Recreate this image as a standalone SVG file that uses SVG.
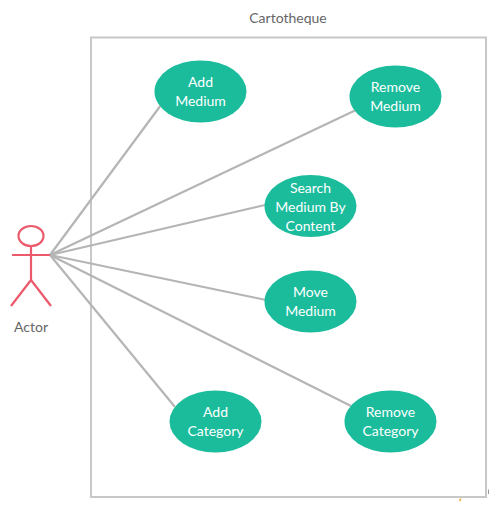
<svg xmlns="http://www.w3.org/2000/svg" width="495" height="505" viewBox="0 0 495 505">
<style>
text{font-family:Lato,"Liberation Sans",sans-serif;font-size:14px;text-anchor:middle}
.u ellipse{fill:#1abc9c}
.u text{fill:#fff}
.c line{stroke:#b5b5b5;stroke-width:2.2;fill:none}
.a *{stroke:#eb5a6b;stroke-width:2.2;fill:none}
.l{fill:#666}
</style>
<rect width="495" height="505" fill="#fff"/>
<g id="boundary"><rect x="91" y="37.500" width="395" height="459.500" fill="none" stroke="#c8c8c8" stroke-width="2"/>
<text class="l" x="288" y="23">Cartotheque</text></g>
<path d="M461 498.500L459.500 501" stroke="#f5b04c" stroke-width="1.500" fill="none"/>
<path d="M488.500 489.500V494" stroke="#999" stroke-width="1" fill="none"/>
<g id="connectors" class="c">
<line x1="50" y1="255" x2="161" y2="105"/>
<line x1="50" y1="255" x2="356" y2="110"/>
<line x1="50" y1="255" x2="265" y2="205"/>
<line x1="50" y1="255" x2="266" y2="300"/>
<line x1="50" y1="255" x2="175" y2="407"/>
<line x1="50" y1="255" x2="351" y2="406"/>
</g>
<g id="actor"><g class="a"><ellipse cx="31" cy="236" rx="12.500" ry="10"/><line x1="31" y1="246" x2="31" y2="280"/><line x1="12" y1="255" x2="50" y2="255"/><line x1="31" y1="280" x2="11" y2="306"/><line x1="31" y1="280" x2="51" y2="306"/></g>
<text class="l" x="31" y="332">Actor</text></g>
<g id="add-medium" class="u"><ellipse cx="200.500" cy="91.500" rx="46" ry="31"/><text x="200.500" y="87">Add</text><text x="200.500" y="106">Medium</text></g>
<g id="remove-medium" class="u"><ellipse cx="395.500" cy="96.500" rx="46" ry="31"/><text x="395.500" y="92">Remove</text><text x="395.500" y="111">Medium</text></g>
<g id="search-medium" class="u"><ellipse cx="310.500" cy="206" rx="46" ry="31"/><text x="310.500" y="193">Search</text><text x="310.500" y="212">Medium By</text><text x="310.500" y="231">Content</text></g>
<g id="move-medium" class="u"><ellipse cx="310.500" cy="301.500" rx="46" ry="31"/><text x="310.500" y="297">Move</text><text x="310.500" y="316">Medium</text></g>
<g id="add-category" class="u"><ellipse cx="215.500" cy="421.500" rx="46" ry="31"/><text x="215.500" y="417">Add</text><text x="215.500" y="436">Category</text></g>
<g id="remove-category" class="u"><ellipse cx="390.500" cy="421.500" rx="46" ry="31"/><text x="390.500" y="417">Remove</text><text x="390.500" y="436">Category</text></g>
</svg>
